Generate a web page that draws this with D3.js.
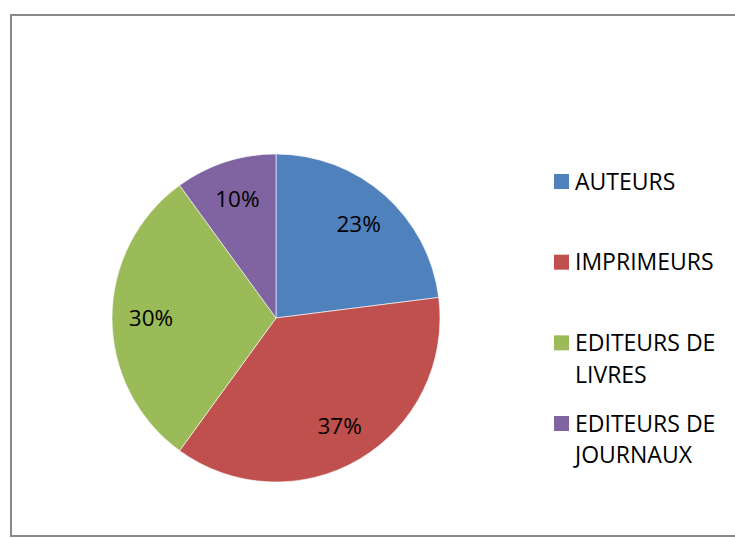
<!DOCTYPE html>
<html>
<head>
<meta charset="utf-8">
<script src="https://cdn.jsdelivr.net/npm/d3@7"></script>
<style>
  html, body { margin: 0; padding: 0; background: #fff; }
  svg { display: block; }
  text { font-family: 'Open Sans', 'Liberation Sans', sans-serif; fill: #000; }
</style>
</head>
<body>
<div id="chart"></div>
<script>
const categories = ['AUTEURS', 'IMPRIMEURS', 'EDITEURS DE LIVRES', 'EDITEURS DE JOURNAUX']
const legendLines = [['AUTEURS'], ['IMPRIMEURS'], ['EDITEURS DE', 'LIVRES'], ['EDITEURS DE', 'JOURNAUX']]
const values = [23, 37, 30, 10]
const colors = ['#4f81bd', '#c0504d', '#9bbb59', '#8064a2']

const w = 735,
  h = 538,
  cx = 276,
  cy = 318,
  radius = 164,
  labelR = 125

const svg = d3.select('#chart').append('svg')
  .attr('width', w)
  .attr('height', h)

// chart frame
svg.append('rect')
  .attr('x', 11)
  .attr('y', 15)
  .attr('width', w)
  .attr('height', 521)
  .attr('fill', 'none')
  .attr('stroke', '#898989')
  .attr('stroke-width', 2)

const fill = d3.scaleOrdinal().domain(categories).range(colors)
const total = d3.sum(values)

const pie = d3.pie().sort(null).value(d => d.v)
const arcs = pie(categories.map((c, i) => ({ c, v: values[i] })))

const arc = d3.arc().innerRadius(0).outerRadius(radius)
const labelArc = d3.arc().innerRadius(labelR).outerRadius(labelR)

const g = svg.append('g').attr('transform', `translate(${cx}, ${cy})`)

g.selectAll('path')
  .data(arcs)
  .enter()
  .append('path')
  .attr('d', arc)
  .attr('fill', d => fill(d.data.c))
  .attr('stroke', '#fff')
  .attr('stroke-width', 0.6)

g.selectAll('text')
  .data(arcs)
  .enter()
  .append('text')
  .attr('transform', d => `translate(${labelArc.centroid(d)})`)
  .attr('text-anchor', 'middle')
  .attr('dy', '0.36em')
  .style('font-size', '22.5px')
  .text(d => Math.round(d.data.v / total * 100) + '%')

// legend
const legend = svg.append('g').attr('transform', 'translate(554, 174)')
const yLegend = d3.scalePoint().domain(categories).range([0, 242])

const item = legend.selectAll('.item')
  .data(categories)
  .enter()
  .append('g')
  .attr('class', 'item')
  .attr('transform', d => `translate(0, ${yLegend(d)})`)

item.append('rect')
  .attr('width', 15)
  .attr('height', 15)
  .attr('fill', d => fill(d))

item.append('text')
  .attr('x', 21)
  .attr('y', 15.5)
  .style('font-size', '23px')
  .selectAll('tspan')
  .data((d, i) => legendLines[i])
  .enter()
  .append('tspan')
  .attr('x', 21)
  .attr('dy', (d, i) => i === 0 ? 0 : 31.7)
  .text(d => d)
</script>
</body>
</html>
